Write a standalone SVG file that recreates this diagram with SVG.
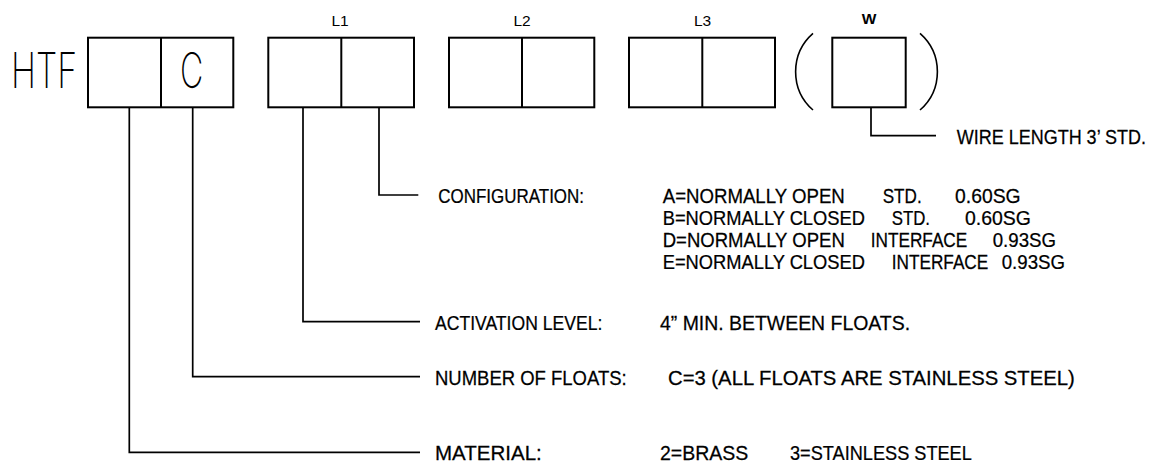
<svg xmlns="http://www.w3.org/2000/svg" width="1163" height="466" viewBox="0 0 1163 466">
<style>
.bx{fill:none;stroke:#000;stroke-width:2}
.dv{stroke:#000;stroke-width:2}
.cn{fill:none;stroke:#000;stroke-width:1.7}
.pr{fill:none;stroke:#000;stroke-width:1.6}
.big{font-family:"Inter","Liberation Sans",sans-serif;font-weight:200;font-size:49px;fill:#000}
.t{font-family:"Liberation Sans",Arial,sans-serif;font-size:21px;fill:#000;stroke:#000;stroke-width:0.25}
.hd{font-family:"Liberation Sans",Arial,sans-serif;font-size:15.5px;fill:#000;text-anchor:middle}
</style>
<rect width="1163" height="466" fill="#fff"/>

<g id="prefix">
<text class="big" x="11" y="88.3" textLength="66" lengthAdjust="spacingAndGlyphs">HTF</text>
</g>

<g id="box-material-floats">
<rect class="bx" x="88" y="37.7" width="145.3" height="69.6"/>
<line class="dv" x1="161" y1="37.7" x2="161" y2="107.3"/>
<text class="big" x="180" y="88.3" textLength="23.3" lengthAdjust="spacingAndGlyphs">C</text>
</g>

<g id="box-l1">
<text class="hd" x="340" y="25.5">L1</text>
<rect class="bx" x="268.3" y="37.7" width="145.7" height="69.6"/>
<line class="dv" x1="341.3" y1="37.7" x2="341.3" y2="107.3"/>
</g>

<g id="box-l2">
<text class="hd" x="522" y="25.5">L2</text>
<rect class="bx" x="449" y="37.7" width="145.3" height="69.6"/>
<line class="dv" x1="522" y1="37.7" x2="522" y2="107.3"/>
</g>

<g id="box-l3">
<text class="hd" x="702.5" y="25.5">L3</text>
<rect class="bx" x="629" y="37.7" width="146" height="69.6"/>
<line class="dv" x1="702.3" y1="37.7" x2="702.3" y2="107.3"/>
</g>

<g id="box-w">
<text class="hd" x="869" y="23.5" font-weight="bold">W</text>
<path class="pr" d="M813,33.3 A51,51 0 0 0 813,110"/>
<rect class="bx" x="832.3" y="37.7" width="73.4" height="69.6"/>
<path class="pr" d="M920,33.3 A51,51 0 0 1 920,110"/>
</g>

<g id="connectors">
<polyline class="cn" points="129.3,107.3 129.3,452.3 420,452.3"/>
<polyline class="cn" points="192.7,107.3 192.7,376.7 420,376.7"/>
<polyline class="cn" points="303,107.3 303,321.7 420,321.7"/>
<polyline class="cn" points="379,107.3 379,195 418.3,195"/>
<polyline class="cn" points="871,107.3 871,135.7 936,135.7"/>
</g>

<g id="label-wire">
<text class="t" transform="translate(956.7,143.7) scale(0.857,1)">WIRE LENGTH 3’ STD.</text>
</g>

<g id="label-configuration">
<text class="t" transform="translate(438.3,203.3) scale(0.808,1)">CONFIGURATION:</text>
<text class="t" transform="translate(662.7,203.3) scale(0.888,1)">A=NORMALLY OPEN</text>
<text class="t" transform="translate(882.7,203.3) scale(0.815,1)">STD.</text>
<text class="t" transform="translate(955,203.3) scale(0.922,1)">0.60SG</text>
<text class="t" transform="translate(662.7,225.3) scale(0.872,1)">B=NORMALLY CLOSED</text>
<text class="t" transform="translate(891.7,225.3) scale(0.801,1)">STD.</text>
<text class="t" transform="translate(965,225.3) scale(0.927,1)">0.60SG</text>
<text class="t" transform="translate(662.7,247.3) scale(0.883,1)">D=NORMALLY OPEN</text>
<text class="t" transform="translate(870.7,247.3) scale(0.82,1)">INTERFACE</text>
<text class="t" transform="translate(992.7,247.3) scale(0.889,1)">0.93SG</text>
<text class="t" transform="translate(662.7,269.3) scale(0.872,1)">E=NORMALLY CLOSED</text>
<text class="t" transform="translate(891.7,269.3) scale(0.82,1)">INTERFACE</text>
<text class="t" transform="translate(1001.7,269.3) scale(0.889,1)">0.93SG</text>
</g>

<g id="label-activation">
<text class="t" transform="translate(435,329.7) scale(0.837,1)">ACTIVATION LEVEL:</text>
<text class="t" transform="translate(660,329.7) scale(0.926,1)">4” MIN. BETWEEN FLOATS.</text>
</g>

<g id="label-floats">
<text class="t" transform="translate(435,384.7) scale(0.881,1)">NUMBER OF FLOATS:</text>
<text class="t" transform="translate(668,384.7) scale(0.966,1)">C=3 (ALL FLOATS ARE STAINLESS STEEL)</text>
</g>

<g id="label-material">
<text class="t" transform="translate(435,460.3) scale(0.977,1)">MATERIAL:</text>
<text class="t" transform="translate(660,460.3) scale(0.928,1)">2=BRASS</text>
<text class="t" transform="translate(790,460.3) scale(0.865,1)">3=STAINLESS STEEL</text>
</g>
</svg>
